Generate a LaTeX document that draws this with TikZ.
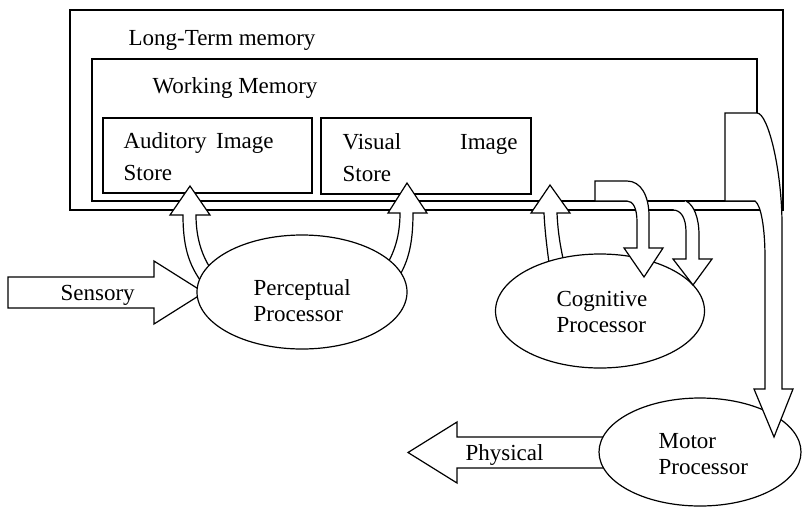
\documentclass[tikz,border=0pt]{standalone}
\usepackage{fontspec}
\setmainfont{Liberation Serif}
\usetikzlibrary{shapes.geometric}
\begin{document}
\begin{tikzpicture}[x=1pt,y=-1pt,line width=1.2pt,
  txt/.style={inner sep=0pt,anchor=base west,font=\fontsize{23}{26}\selectfont},
  storetxt/.style={txt,align=left,font=\fontsize{23}{32}\selectfont},
  proctxt/.style={txt,align=left},
  proc/.style={draw,fill=white,ellipse,inner sep=0pt},
  blockarrow/.style={draw,fill=white,line join=miter}]
\useasboundingbox (0,0) rectangle (802,507);

% memory boxes (multi-line labels are placed by their last baseline)
\draw (70,10) rectangle (783,210);
\draw (92,59) rectangle (757,201);
\draw (103,118) rectangle (312,193);
\draw (321,118) rectangle (531,194);
\node[txt] (ltm) at (128,45) {Long-Term memory};
\node[txt] (wm) at (152,93) {Working Memory};
\node[storetxt] (ais) at (123,180) {\makebox[150pt][s]{Auditory Image}\\Store};
\node[storetxt] (vis) at (342,181) {\makebox[175pt][s]{Visual Image}\\Store};

% input and output arrows
\draw[blockarrow] (8,277) -- (154,277) -- (154,261) -- (204,292.5) -- (154,324) -- (154,308) -- (8,308) -- cycle;
\node[txt] (sens) at (60,300) {Sensory};
\draw[blockarrow] (612,437) -- (457,437) -- (457,422) -- (408,452.5) -- (457,483) -- (457,468) -- (612,468) -- cycle;
\node[txt] (phys) at (465,460) {Physical};

% processors writing into the stores
\draw[blockarrow] (196,215) -- (210,215) -- (190,186) -- (170,215) -- (183,215)
  .. controls (183,250) and (190,268) .. (206,288) -- (216,276)
  .. controls (203,260) and (196,240) .. (196,215) -- cycle;
\draw[blockarrow] (400,213) -- (388,213) -- (407,183) -- (427,213) -- (413,213)
  .. controls (413,245) and (408,265) .. (394,284) -- (382,272)
  .. controls (392,258) and (400,240) .. (400,213) -- cycle;
\draw[blockarrow] (544,213) -- (531,213) -- (550,185) -- (570,213) -- (557,213)
  .. controls (558,235) and (561,250) .. (566,272) -- (551,278)
  .. controls (548,255) and (545,235) .. (544,213) -- cycle;

% processors
\node[proc,minimum width=210pt,minimum height=114pt] (perc) at (302,292) {};
\node[proctxt] (percT) at (253,321.5) {Perceptual\\Processor};
\node[proc,minimum width=209pt,minimum height=114pt] (cog) at (600,311) {};
\node[proctxt] (cogT) at (556,332) {Cognitive\\Processor};
\node[proc,minimum width=202pt,minimum height=108pt] (mot) at (700,452) {};
\node[proctxt] (motT) at (658,474) {Motor\\Processor};

% memories feeding the cognitive and motor processors
\draw[blockarrow] (595,201) -- (595,181) -- (627,181)
  .. controls (641,181) and (649,196) .. (649,216) -- (649,248) -- (663,248)
  -- (644,277) -- (624,248) -- (637,248) -- (637,222)
  .. controls (637,208) and (633,201) .. (627,201) -- cycle;
\path[fill=white,draw,line join=miter] (673,210)
  .. controls (681,210) and (686,218) .. (686,232) -- (686,259) -- (673,259)
  -- (693,285) -- (712,259) -- (699,259) -- (699,235)
  .. controls (699,218) and (694,205) .. (686,201);
\draw[blockarrow] (725,201) -- (725,113) -- (757,113)
  .. controls (768,113) and (782,170) .. (782,225) -- (782,389) -- (793,389)
  -- (774,437) -- (754,389) -- (765,389) -- (765,258)
  .. controls (765,228) and (761,205) .. (755,201) -- cycle;
\end{tikzpicture}
\end{document}
